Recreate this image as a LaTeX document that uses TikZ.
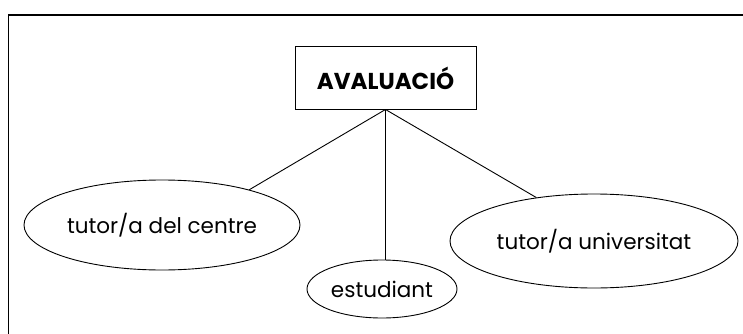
\documentclass[tikz,border=0pt]{standalone}
\usepackage{fontspec}
\setmainfont{Poppins}
\usetikzlibrary{shapes.geometric}
\begin{document}
\begin{tikzpicture}[x=1pt,y=-1pt,
  line/.style={draw=black,line width=0.9pt},
  oval/.style={ellipse,draw=black,line width=0.9pt,inner sep=0pt,font=\fontsize{21.5}{24}\selectfont},
  titlebox/.style={rectangle,draw=black,line width=1pt,inner sep=0pt,font=\bfseries\fontsize{23}{26}\selectfont}]
\useasboundingbox (0,0) rectangle (743,334);
\coordinate (fb) at (8.5,334);
\coordinate (ft) at (8.5,15);
\coordinate (fr) at (743,15);
\draw[line width=1.2pt] (fb) -- (ft) -- (fr);
\node[titlebox,minimum width=181pt,minimum height=62pt] (ev) at (385.5,78) {AVALUACIÓ};
\node[oval,minimum width=276pt,minimum height=90pt] (tc) at (162,225) {tutor/a del centre};
\node[oval,minimum width=150pt,minimum height=58pt] (es) at (382,289) {estudiant};
\node[oval,minimum width=288pt,minimum height=94pt] (tu) at (594,241) {tutor/a universitat};
\draw[line] (ev.south) -- (tc.22);
\draw[line] (ev.south) -- (ev.south |- es.north);
\draw[line] (ev.south) -- (tu.143);
\end{tikzpicture}
\end{document}
